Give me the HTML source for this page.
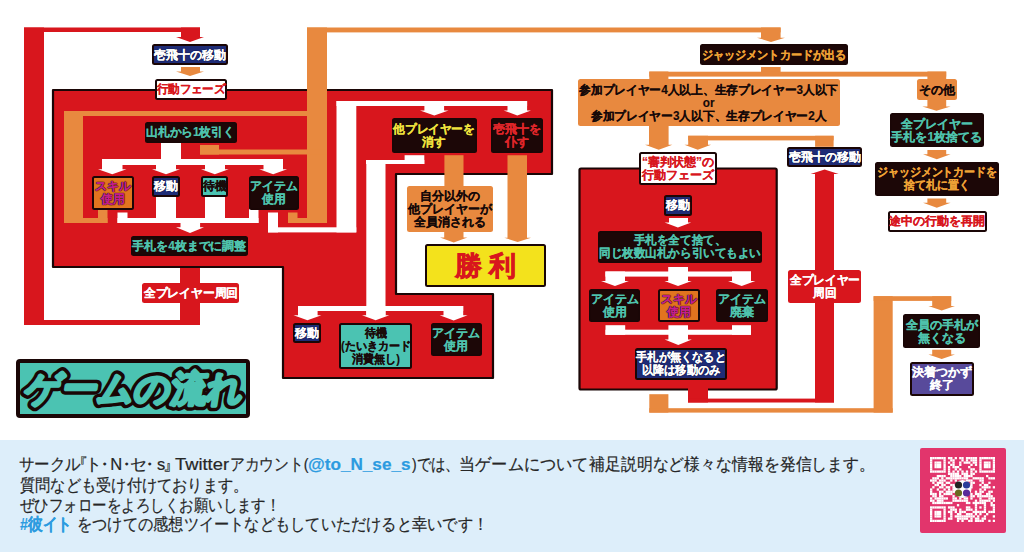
<!DOCTYPE html>
<html lang="ja">
<head>
<meta charset="utf-8">
<style>
html,body{margin:0;padding:0;}
body{width:1024px;height:552px;overflow:hidden;background:#fff;position:relative;font-family:"Liberation Sans",sans-serif;}
svg.d{position:absolute;left:0;top:0;}
.t{display:inline-block;}
.b{position:absolute;box-sizing:border-box;padding-top:1px;display:flex;align-items:center;justify-content:center;text-align:center;font-weight:bold;font-size:12px;line-height:13px;-webkit-text-stroke:0.15px currentColor;border:2px solid #1a0606;border-radius:2.5px;white-space:nowrap;}
.nv{background:#1f2c76;color:#fff;text-shadow:0 0 1px #0a0a30,0 0 1px #0a0a30;}
.dk{background:#1c0707;color:#4fc3ad;}
.wt{background:#fff;color:#d8161d;}
.tl{background:#4bc3b2;color:#1a0a0a;}
.sk{background:#e2741f;color:#c4208a;text-shadow:0 0 1px #000,0 0 1px #000,0 0 1px #000;}
.or{background:#e8893f;color:#140808;border:none;}
.rd{background:#d8161d;color:#fff;border:none;}
.pp{background:#584a9b;color:#fff;}
.yl{color:#f0e33e;}
.rt{color:#e1262a;}
.ot{color:#f0a336;}
.win{background:#f3e21c;color:#d8161d;font-size:27px;line-height:30px;letter-spacing:7px;-webkit-text-stroke:0.7px #d8161d;padding-left:7px;}
#foot{position:absolute;left:0;top:440px;width:1024px;height:112px;background:#ddeefa;}
.fs{position:absolute;transform-origin:0 0;font-size:16.5px;color:#262626;-webkit-text-stroke:0.2px #262626;white-space:nowrap;line-height:20px;}
.bl{color:#2c9be0;font-weight:bold;-webkit-text-stroke:0.2px #2c9be0;}
</style>
</head>
<body>
<svg class="d" width="1024" height="552" viewBox="0 0 1024 552">
<rect x="24" y="27.5" width="176" height="4.5" fill="#d8161d"/>
<rect x="24" y="27.5" width="20" height="297.5" fill="#d8161d"/>
<rect x="24" y="320" width="176" height="5" fill="#d8161d"/>
<rect x="180" y="262" width="20" height="63" fill="#d8161d"/>
<polygon points="181,27.5 200,27.5 200,37 204,37 190.0,42 176,37 181,37" fill="#d8161d" />
<polygon points="53,90 552,90 552,174 396,174 396,294 493,294 493,378 283,378 283,267 53,267" fill="#d8161d" stroke="#1a0606" stroke-width="2.2" stroke-linejoin="round"/>
<polygon points="181,67 200,67 200,71.5 204,71.5 190.0,76 176,71.5 181,71.5" fill="#e8893f" />
<rect x="307" y="27.5" width="473.6" height="4.9" fill="#e8893f"/>
<rect x="307" y="27.5" width="20" height="195.5" fill="#e8893f"/>
<polygon points="761,27.5 780.6,27.5 780.6,37.7 785,37.7 771.0,42 757,37.7 761,37.7" fill="#e8893f" />
<rect x="64" y="111" width="263" height="5" fill="#e8893f"/>
<rect x="64" y="111" width="19" height="112" fill="#e8893f"/>
<rect x="64" y="218" width="43.5" height="5" fill="#e8893f"/>
<rect x="98" y="209" width="9.5" height="14" fill="#e8893f"/>
<rect x="200" y="149.5" width="127" height="5.0" fill="#e8893f"/>
<rect x="200" y="145" width="19" height="9.5" fill="#e8893f"/>
<rect x="288" y="218" width="39" height="5" fill="#e8893f"/>
<rect x="288" y="212.5" width="9.5" height="10.5" fill="#e8893f"/>
<rect x="444.4" y="155.2" width="19.1" height="31.3" fill="#e8893f"/>
<polygon points="507.5,155.2 527,155.2 527,237.7 531,237.7 517.65,242.1 504.3,237.7 507.5,237.7" fill="#e8893f" />
<polygon points="444.2,232 463.5,232 463.5,237.4 467.4,237.4 453.7,242.5 440,237.4 444.2,237.4" fill="#e8893f" />
<rect x="161" y="142" width="20" height="23" fill="#ffffff"/>
<rect x="102" y="159" width="181" height="6" fill="#ffffff"/>
<polygon points="102,159 122.5,159 122.5,169.3 126.5,169.3 112.25,174.3 98,169.3 102,169.3" fill="#ffffff" />
<polygon points="156,159 176,159 176,169.3 180,169.3 166.0,174.3 152,169.3 156,169.3" fill="#ffffff" />
<polygon points="205,159 225,159 225,169.3 228.7,169.3 214.85,174.3 201,169.3 205,169.3" fill="#ffffff" />
<polygon points="263.5,159 283,159 283,169.3 287.1,169.3 273.15,174.3 259.2,169.3 263.5,169.3" fill="#ffffff" />
<rect x="117.5" y="218" width="141.0" height="5" fill="#ffffff"/>
<rect x="117.5" y="212.5" width="10.0" height="10.5" fill="#ffffff"/>
<rect x="156" y="196" width="20" height="27" fill="#ffffff"/>
<rect x="205" y="196" width="20" height="27" fill="#ffffff"/>
<rect x="249" y="209" width="9.5" height="14" fill="#ffffff"/>
<polygon points="180.5,222 200.1,222 200.1,227.3 204,227.3 190.0,233 176,227.3 180.5,227.3" fill="#ffffff" />
<rect x="268" y="212.5" width="10" height="19.9" fill="#ffffff"/>
<rect x="268" y="227.3" width="88.3" height="5.1" fill="#ffffff"/>
<rect x="336.5" y="101" width="19.8" height="131.4" fill="#ffffff"/>
<rect x="336.5" y="101" width="190.6" height="5" fill="#ffffff"/>
<polygon points="424.4,101 444.1,101 444.1,110.4 448.6,110.4 434.3,115.5 420,110.4 424.4,110.4" fill="#ffffff" />
<polygon points="507.5,101 527.1,101 527.1,110.4 531,110.4 517.3,115.5 503.6,110.4 507.5,110.4" fill="#ffffff" />
<rect x="404.6" y="155.2" width="19.7" height="8.8" fill="#ffffff"/>
<rect x="366" y="160" width="58.3" height="4" fill="#ffffff"/>
<rect x="366.3" y="160" width="19.2" height="155.2" fill="#ffffff"/>
<rect x="298" y="306" width="165.2" height="5" fill="#ffffff"/>
<polygon points="298,306 317.6,306 317.6,315.2 321.4,315.2 307.45,320.3 293.5,315.2 298,315.2" fill="#ffffff" />
<polygon points="366.3,306 385.5,306 385.5,315.2 389.3,315.2 375.65,320.3 362,315.2 366.3,315.2" fill="#ffffff" />
<polygon points="443.5,306 463.2,306 463.2,315.2 467.6,315.2 453.65,320.6 439.7,315.2 443.5,315.2" fill="#ffffff" />
<rect x="761" y="67" width="19.6" height="5" fill="#e8893f"/>
<rect x="649.3" y="71.7" width="296.9" height="4.9" fill="#e8893f"/>
<rect x="649.3" y="71.5" width="19.1" height="8.0" fill="#e8893f"/>
<rect x="927.4" y="71.5" width="18.8" height="8.0" fill="#e8893f"/>
<polygon points="927.4,99.5 946.2,99.5 946.2,106.4 950.6,106.4 936.45,110.7 922.3,106.4 927.4,106.4" fill="#e8893f" />
<polygon points="927.4,149.9 946.2,149.9 946.2,154.2 950.6,154.2 936.8,159.3 923,154.2 927.4,154.2" fill="#e8893f" />
<polygon points="927.4,198.4 946.2,198.4 946.2,202.8 950.6,202.8 936.8,207.8 923,202.8 927.4,202.8" fill="#e8893f" />
<polygon points="649,125 668.6,125 668.6,144.8 672.4,144.8 658.7,149.8 645,144.8 649,144.8" fill="#e8893f" />
<rect x="688.2" y="135.8" width="145.4" height="4.6" fill="#e8893f"/>
<rect x="815.1" y="135.8" width="18.5" height="11.0" fill="#e8893f"/>
<polygon points="688.2,135.8 708,135.8 708,144.8 711.1,144.8 697.75,149.8 684.4,144.8 688.2,144.8" fill="#e8893f" />
<rect x="649.3" y="394.2" width="19.1" height="18.4" fill="#e8893f"/>
<rect x="649.3" y="408.2" width="243.4" height="4.4" fill="#e8893f"/>
<rect x="873.6" y="296.2" width="19.1" height="116.4" fill="#e8893f"/>
<rect x="873.6" y="296.2" width="77.6" height="4.7" fill="#e8893f"/>
<polygon points="932.2,296.2 951.2,296.2 951.2,306 955,306 941.7,310.4 928.4,306 932.2,306" fill="#e8893f" />
<polygon points="932.2,349.8 951.2,349.8 951.2,354.5 955,354.5 941.7,359 928.4,354.5 932.2,354.5" fill="#e8893f" />
<rect x="579.5" y="168.5" width="197.2" height="221" fill="#d8161d" stroke="#1a0606" stroke-width="2.2" rx="1.5"/>
<rect x="688" y="388" width="20" height="14.5" fill="#d8161d"/>
<rect x="688" y="398.6" width="146" height="3.9" fill="#d8161d"/>
<polygon points="815,402.5 834,402.5 834,174 838.6,174 824.6,169.5 810.6,174 815,174" fill="#d8161d" />
<polygon points="669,218 688,218 688,222.5 691.2,222.5 677.9000000000001,227.6 664.6,222.5 669,222.5" fill="#ffffff" />
<rect x="605.4" y="271.5" width="145.6" height="5.1" fill="#ffffff"/>
<polygon points="605.4,271.5 625,271.5 625,281 628.9,281 614.95,286.1 601,281 605.4,281" fill="#ffffff" />
<polygon points="668.2,267 688,267 688,281 691.7,281 678.05,286.1 664.4,281 668.2,281" fill="#ffffff" />
<polygon points="732,271.5 751,271.5 751,281 755.4,281 741.7,286.1 728,281 732,281" fill="#ffffff" />
<rect x="605.5" y="325.2" width="19.7" height="9.6" fill="#ffffff"/>
<rect x="605.5" y="329.7" width="145.5" height="5.1" fill="#ffffff"/>
<rect x="732" y="325.2" width="19" height="9.6" fill="#ffffff"/>
<polygon points="668.4,325.2 688,325.2 688,339.5 691.9,339.5 678.25,344.9 664.6,339.5 668.4,339.5" fill="#ffffff" />
</svg>
<div class="b nv" style="left:152px;top:44px;width:76px;height:21px;"><span class="t" id="t0" style="transform:scaleX(1.0000)">壱飛十の移動</span></div><div class="b wt" style="left:154.5px;top:79px;width:72.0px;height:20.5px;"><span class="t" id="t1" style="transform:scaleX(0.9583)">行動フェーズ</span></div><div class="b dk" style="left:145px;top:122px;width:91.5px;height:20.5px;"><span class="t" id="t2" style="transform:scaleX(0.9725)">山札から1枚引く</span></div><div class="b sk" style="left:91.5px;top:176px;width:42.0px;height:33.5px;"><span class="t" id="t3" style="transform:scaleX(1.0000)">スキル<br>使用</span></div><div class="b nv" style="left:152px;top:176px;width:28px;height:20.5px;"><span class="t" id="t4" style="transform:scaleX(1.0000)">移動</span></div><div class="b tl" style="left:201px;top:176px;width:27px;height:20.5px;"><span class="t" id="t5" style="transform:scaleX(1.0000)">待機</span></div><div class="b dk" style="left:248.5px;top:176px;width:50.5px;height:33.5px;"><span class="t" id="t6" style="transform:scaleX(0.9896)">アイテム<br>使用</span></div><div class="b dk" style="left:131px;top:235.5px;width:117px;height:20.5px;"><span class="t" id="t7" style="transform:scaleX(0.9913)">手札を4枚までに調整</span></div><div class="b rd" style="left:142px;top:283px;width:97px;height:20px;"><span class="t" id="t8" style="transform:scaleX(0.9792)">全プレイヤー周回</span></div><div class="b dk yl" style="left:392px;top:118px;width:84.5px;height:34.5px;"><span class="t" id="t9" style="transform:scaleX(0.9702)">他プレイヤーを<br>消す</span></div><div class="b dk rt" style="left:491px;top:118px;width:52px;height:34.5px;"><span class="t" id="t10" style="transform:scaleX(1.0000)">壱飛十を<br>仆す</span></div><div class="b or" style="left:406.5px;top:185.5px;width:86.5px;height:46.8px;"><span class="t" id="t11" style="transform:scaleX(0.9940)">自分以外の<br>他プレイヤーが<br>全員消される</span></div><div class="b win" style="left:425px;top:244px;width:121px;height:42.5px;"><span class="t" id="t12" style="transform:scaleX(1.0000)">勝利</span></div><div class="b nv" style="left:293px;top:322.5px;width:28px;height:20.0px;"><span class="t" id="t13" style="transform:scaleX(1.0000)">移動</span></div><div class="b tl" style="left:339px;top:322.5px;width:73px;height:46.5px;"><span class="t" id="t14" style="transform:scaleX(0.9211)">待機<br>(たいきカード<br>消費無し)</span></div><div class="b dk" style="left:430.5px;top:322.5px;width:51.0px;height:33.5px;"><span class="t" id="t15" style="transform:scaleX(1.0000)">アイテム<br>使用</span></div><div class="b dk ot" style="left:700px;top:44px;width:147.5px;height:21px;"><span class="t" id="t16" style="transform:scaleX(0.9263)">ジャッジメントカードが出る</span></div><div class="b or" style="left:578px;top:79px;width:261.5px;height:47px;"><span class="t" id="t17" style="transform:scaleX(0.9755)">参加プレイヤー4人以上、生存プレイヤー3人以下<br>or<br>参加プレイヤー3人以下、生存プレイヤー2人</span></div><div class="b or" style="left:917px;top:79px;width:39.5px;height:21px;"><span class="t" id="t18" style="transform:scaleX(1.0000)">その他</span></div><div class="b dk" style="left:889.5px;top:113px;width:94.5px;height:34px;"><span class="t" id="t19" style="transform:scaleX(1.0000)">全プレイヤー<br>手札を1枚捨てる</span></div><div class="b dk ot" style="left:875px;top:162px;width:123.5px;height:33.5px;"><span class="t" id="t20" style="transform:scaleX(0.9129)">ジャッジメントカードを<br>捨て札に置く</span></div><div class="b wt" style="left:887.5px;top:210.5px;width:99.5px;height:21.5px;"><span class="t" id="t21" style="transform:scaleX(1.0000)">途中の行動を再開</span></div><div class="b wt" style="left:639px;top:151.5px;width:78px;height:33.0px;"><span class="t" id="t22" style="transform:scaleX(1.0000)">“審判状態”の<br>行動フェーズ</span></div><div class="b nv" style="left:787px;top:146.5px;width:75px;height:20.0px;"><span class="t" id="t23" style="transform:scaleX(1.0000)">壱飛十の移動</span></div><div class="b nv" style="left:664px;top:195px;width:28px;height:20.5px;"><span class="t" id="t24" style="transform:scaleX(1.0000)">移動</span></div><div class="b dk" style="left:597.5px;top:230.5px;width:164.5px;height:32.5px;"><span class="t" id="t25" style="transform:scaleX(0.9613)">手札を全て捨て、<br>同じ枚数山札から引いてもよい</span></div><div class="b dk" style="left:589px;top:288.5px;width:51px;height:33.5px;"><span class="t" id="t26" style="transform:scaleX(1.0000)">アイテム<br>使用</span></div><div class="b sk" style="left:657.5px;top:288.5px;width:42.0px;height:33.5px;"><span class="t" id="t27" style="transform:scaleX(1.0000)">スキル<br>使用</span></div><div class="b dk" style="left:716px;top:288.5px;width:51.5px;height:33.5px;"><span class="t" id="t28" style="transform:scaleX(1.0000)">アイテム<br>廃棄</span></div><div class="b rd" style="left:788px;top:269.5px;width:73px;height:33.5px;"><span class="t" id="t29" style="transform:scaleX(0.9722)">全プレイヤー<br>周回</span></div><div class="b nv" style="left:634.5px;top:347.5px;width:92.5px;height:32.5px;"><span class="t" id="t30" style="transform:scaleX(0.9323)">手札が無くなると<br>以降は移動のみ</span></div><div class="b dk" style="left:903px;top:314px;width:77px;height:34px;"><span class="t" id="t31" style="transform:scaleX(1.0000)">全員の手札が<br>無くなる</span></div><div class="b pp" style="left:909.5px;top:361.5px;width:64.5px;height:34.5px;"><span class="t" id="t32" style="transform:scaleX(1.0000)">決着つかず<br>終了</span></div>
<div style="position:absolute;left:16px;top:359px;width:234px;height:58.5px;box-sizing:border-box;background:#4bc3b2;border:4px solid #1a0606;border-radius:4px;"></div>
<svg style="position:absolute;left:0;top:0" width="260" height="430"><g transform="translate(24,401) skewX(-9)" style="font-family:'Liberation Sans',sans-serif" font-size="36" font-weight="bold">
<text x="0" y="0" fill="#1a0606" stroke="#1a0606" stroke-width="10" stroke-linejoin="round" textLength="218" lengthAdjust="spacingAndGlyphs">ゲームの流れ</text>
<text x="0" y="0" fill="#4bc3b2" stroke="#4bc3b2" stroke-width="3" stroke-linejoin="round" textLength="218" lengthAdjust="spacingAndGlyphs">ゲームの流れ</text>
</g></svg>
<div id="foot">
<span class="fs " style="left:19.2px;top:14px;transform:scaleX(0.9088)">サークル</span><span class="fs" style="left:71.4px;top:14px">『</span><span class="fs" style="left:84.6px;top:14px">ト</span><span class="fs" style="left:96px;top:14px">・</span><span class="fs" style="left:110.3px;top:14px">N</span><span class="fs" style="left:117.5px;top:14px">・</span><span class="fs" style="left:130.3px;top:14px">セ</span><span class="fs" style="left:140.5px;top:14px">・</span><span class="fs" style="left:157px;top:14px">s</span><span class="fs" style="left:163.3px;top:14px">』</span><span class="fs " style="left:174.5px;top:14px;transform:scaleX(1.1113)">Twitter</span><span class="fs " style="left:229.5px;top:14px;transform:scaleX(0.8674)">アカウント(</span><span class="fs bl" style="left:308.4px;top:14px;transform:scaleX(1.0391)">@to_N_se_s</span><span class="fs " style="left:411.5px;top:14px;transform:scaleX(0.8460)">)では、</span><span class="fs " style="left:459.3px;top:14px;transform:scaleX(0.9522)">当ゲームについて</span><span class="fs " style="left:588.8px;top:14px;transform:scaleX(0.9346)">補足説明など様々な情報を発信します。</span><span class="fs " style="left:19.6px;top:34.5px;transform:scaleX(0.8957)">質問なども受け付けております。</span><span class="fs " style="left:19.6px;top:54.5px;transform:scaleX(0.8510)">ぜひフォローをよろしくお願いします！</span><span class="fs bl" style="left:19.6px;top:73.5px;transform:scaleX(0.8623)">#彼イト</span><span class="fs " style="left:77px;top:73.5px;transform:scaleX(0.8954)">をつけての感想ツイートなどもしていただけると幸いです！</span>
<div style="position:absolute;left:920px;top:7.5px;width:85.5px;height:85.5px;background:#e2356c;border-radius:2px;"></div><svg style="position:absolute;left:930.2px;top:17.2px" width="65" height="65" viewBox="0 0 65 65"><g fill="#fff"><rect x="0.00" y="0.00" width="2.29" height="2.29"/><rect x="2.24" y="0.00" width="2.29" height="2.29"/><rect x="4.48" y="0.00" width="2.29" height="2.29"/><rect x="6.72" y="0.00" width="2.29" height="2.29"/><rect x="8.97" y="0.00" width="2.29" height="2.29"/><rect x="11.21" y="0.00" width="2.29" height="2.29"/><rect x="13.45" y="0.00" width="2.29" height="2.29"/><rect x="17.93" y="0.00" width="2.29" height="2.29"/><rect x="20.17" y="0.00" width="2.29" height="2.29"/><rect x="24.66" y="0.00" width="2.29" height="2.29"/><rect x="29.14" y="0.00" width="2.29" height="2.29"/><rect x="31.38" y="0.00" width="2.29" height="2.29"/><rect x="35.86" y="0.00" width="2.29" height="2.29"/><rect x="38.10" y="0.00" width="2.29" height="2.29"/><rect x="40.34" y="0.00" width="2.29" height="2.29"/><rect x="42.59" y="0.00" width="2.29" height="2.29"/><rect x="44.83" y="0.00" width="2.29" height="2.29"/><rect x="49.31" y="0.00" width="2.29" height="2.29"/><rect x="51.55" y="0.00" width="2.29" height="2.29"/><rect x="53.79" y="0.00" width="2.29" height="2.29"/><rect x="56.03" y="0.00" width="2.29" height="2.29"/><rect x="58.28" y="0.00" width="2.29" height="2.29"/><rect x="60.52" y="0.00" width="2.29" height="2.29"/><rect x="62.76" y="0.00" width="2.29" height="2.29"/><rect x="0.00" y="2.24" width="2.29" height="2.29"/><rect x="13.45" y="2.24" width="2.29" height="2.29"/><rect x="20.17" y="2.24" width="2.29" height="2.29"/><rect x="22.41" y="2.24" width="2.29" height="2.29"/><rect x="31.38" y="2.24" width="2.29" height="2.29"/><rect x="35.86" y="2.24" width="2.29" height="2.29"/><rect x="40.34" y="2.24" width="2.29" height="2.29"/><rect x="42.59" y="2.24" width="2.29" height="2.29"/><rect x="44.83" y="2.24" width="2.29" height="2.29"/><rect x="49.31" y="2.24" width="2.29" height="2.29"/><rect x="62.76" y="2.24" width="2.29" height="2.29"/><rect x="0.00" y="4.48" width="2.29" height="2.29"/><rect x="4.48" y="4.48" width="2.29" height="2.29"/><rect x="6.72" y="4.48" width="2.29" height="2.29"/><rect x="8.97" y="4.48" width="2.29" height="2.29"/><rect x="13.45" y="4.48" width="2.29" height="2.29"/><rect x="17.93" y="4.48" width="2.29" height="2.29"/><rect x="22.41" y="4.48" width="2.29" height="2.29"/><rect x="29.14" y="4.48" width="2.29" height="2.29"/><rect x="33.62" y="4.48" width="2.29" height="2.29"/><rect x="35.86" y="4.48" width="2.29" height="2.29"/><rect x="38.10" y="4.48" width="2.29" height="2.29"/><rect x="42.59" y="4.48" width="2.29" height="2.29"/><rect x="44.83" y="4.48" width="2.29" height="2.29"/><rect x="49.31" y="4.48" width="2.29" height="2.29"/><rect x="53.79" y="4.48" width="2.29" height="2.29"/><rect x="56.03" y="4.48" width="2.29" height="2.29"/><rect x="58.28" y="4.48" width="2.29" height="2.29"/><rect x="62.76" y="4.48" width="2.29" height="2.29"/><rect x="0.00" y="6.72" width="2.29" height="2.29"/><rect x="4.48" y="6.72" width="2.29" height="2.29"/><rect x="6.72" y="6.72" width="2.29" height="2.29"/><rect x="8.97" y="6.72" width="2.29" height="2.29"/><rect x="13.45" y="6.72" width="2.29" height="2.29"/><rect x="20.17" y="6.72" width="2.29" height="2.29"/><rect x="22.41" y="6.72" width="2.29" height="2.29"/><rect x="29.14" y="6.72" width="2.29" height="2.29"/><rect x="40.34" y="6.72" width="2.29" height="2.29"/><rect x="44.83" y="6.72" width="2.29" height="2.29"/><rect x="49.31" y="6.72" width="2.29" height="2.29"/><rect x="53.79" y="6.72" width="2.29" height="2.29"/><rect x="56.03" y="6.72" width="2.29" height="2.29"/><rect x="58.28" y="6.72" width="2.29" height="2.29"/><rect x="62.76" y="6.72" width="2.29" height="2.29"/><rect x="0.00" y="8.97" width="2.29" height="2.29"/><rect x="4.48" y="8.97" width="2.29" height="2.29"/><rect x="6.72" y="8.97" width="2.29" height="2.29"/><rect x="8.97" y="8.97" width="2.29" height="2.29"/><rect x="13.45" y="8.97" width="2.29" height="2.29"/><rect x="17.93" y="8.97" width="2.29" height="2.29"/><rect x="22.41" y="8.97" width="2.29" height="2.29"/><rect x="24.66" y="8.97" width="2.29" height="2.29"/><rect x="26.90" y="8.97" width="2.29" height="2.29"/><rect x="38.10" y="8.97" width="2.29" height="2.29"/><rect x="49.31" y="8.97" width="2.29" height="2.29"/><rect x="53.79" y="8.97" width="2.29" height="2.29"/><rect x="56.03" y="8.97" width="2.29" height="2.29"/><rect x="58.28" y="8.97" width="2.29" height="2.29"/><rect x="62.76" y="8.97" width="2.29" height="2.29"/><rect x="0.00" y="11.21" width="2.29" height="2.29"/><rect x="13.45" y="11.21" width="2.29" height="2.29"/><rect x="17.93" y="11.21" width="2.29" height="2.29"/><rect x="24.66" y="11.21" width="2.29" height="2.29"/><rect x="29.14" y="11.21" width="2.29" height="2.29"/><rect x="40.34" y="11.21" width="2.29" height="2.29"/><rect x="42.59" y="11.21" width="2.29" height="2.29"/><rect x="49.31" y="11.21" width="2.29" height="2.29"/><rect x="62.76" y="11.21" width="2.29" height="2.29"/><rect x="0.00" y="13.45" width="2.29" height="2.29"/><rect x="2.24" y="13.45" width="2.29" height="2.29"/><rect x="4.48" y="13.45" width="2.29" height="2.29"/><rect x="6.72" y="13.45" width="2.29" height="2.29"/><rect x="8.97" y="13.45" width="2.29" height="2.29"/><rect x="11.21" y="13.45" width="2.29" height="2.29"/><rect x="13.45" y="13.45" width="2.29" height="2.29"/><rect x="17.93" y="13.45" width="2.29" height="2.29"/><rect x="22.41" y="13.45" width="2.29" height="2.29"/><rect x="26.90" y="13.45" width="2.29" height="2.29"/><rect x="31.38" y="13.45" width="2.29" height="2.29"/><rect x="35.86" y="13.45" width="2.29" height="2.29"/><rect x="40.34" y="13.45" width="2.29" height="2.29"/><rect x="44.83" y="13.45" width="2.29" height="2.29"/><rect x="49.31" y="13.45" width="2.29" height="2.29"/><rect x="51.55" y="13.45" width="2.29" height="2.29"/><rect x="53.79" y="13.45" width="2.29" height="2.29"/><rect x="56.03" y="13.45" width="2.29" height="2.29"/><rect x="58.28" y="13.45" width="2.29" height="2.29"/><rect x="60.52" y="13.45" width="2.29" height="2.29"/><rect x="62.76" y="13.45" width="2.29" height="2.29"/><rect x="17.93" y="15.69" width="2.29" height="2.29"/><rect x="20.17" y="15.69" width="2.29" height="2.29"/><rect x="22.41" y="15.69" width="2.29" height="2.29"/><rect x="24.66" y="15.69" width="2.29" height="2.29"/><rect x="26.90" y="15.69" width="2.29" height="2.29"/><rect x="31.38" y="15.69" width="2.29" height="2.29"/><rect x="33.62" y="15.69" width="2.29" height="2.29"/><rect x="35.86" y="15.69" width="2.29" height="2.29"/><rect x="40.34" y="15.69" width="2.29" height="2.29"/><rect x="42.59" y="15.69" width="2.29" height="2.29"/><rect x="6.72" y="17.93" width="2.29" height="2.29"/><rect x="8.97" y="17.93" width="2.29" height="2.29"/><rect x="11.21" y="17.93" width="2.29" height="2.29"/><rect x="13.45" y="17.93" width="2.29" height="2.29"/><rect x="20.17" y="17.93" width="2.29" height="2.29"/><rect x="22.41" y="17.93" width="2.29" height="2.29"/><rect x="24.66" y="17.93" width="2.29" height="2.29"/><rect x="26.90" y="17.93" width="2.29" height="2.29"/><rect x="29.14" y="17.93" width="2.29" height="2.29"/><rect x="33.62" y="17.93" width="2.29" height="2.29"/><rect x="35.86" y="17.93" width="2.29" height="2.29"/><rect x="38.10" y="17.93" width="2.29" height="2.29"/><rect x="40.34" y="17.93" width="2.29" height="2.29"/><rect x="56.03" y="17.93" width="2.29" height="2.29"/><rect x="2.24" y="20.17" width="2.29" height="2.29"/><rect x="4.48" y="20.17" width="2.29" height="2.29"/><rect x="6.72" y="20.17" width="2.29" height="2.29"/><rect x="11.21" y="20.17" width="2.29" height="2.29"/><rect x="15.69" y="20.17" width="2.29" height="2.29"/><rect x="17.93" y="20.17" width="2.29" height="2.29"/><rect x="20.17" y="20.17" width="2.29" height="2.29"/><rect x="22.41" y="20.17" width="2.29" height="2.29"/><rect x="24.66" y="20.17" width="2.29" height="2.29"/><rect x="26.90" y="20.17" width="2.29" height="2.29"/><rect x="29.14" y="20.17" width="2.29" height="2.29"/><rect x="31.38" y="20.17" width="2.29" height="2.29"/><rect x="33.62" y="20.17" width="2.29" height="2.29"/><rect x="35.86" y="20.17" width="2.29" height="2.29"/><rect x="42.59" y="20.17" width="2.29" height="2.29"/><rect x="44.83" y="20.17" width="2.29" height="2.29"/><rect x="47.07" y="20.17" width="2.29" height="2.29"/><rect x="49.31" y="20.17" width="2.29" height="2.29"/><rect x="51.55" y="20.17" width="2.29" height="2.29"/><rect x="58.28" y="20.17" width="2.29" height="2.29"/><rect x="60.52" y="20.17" width="2.29" height="2.29"/><rect x="62.76" y="20.17" width="2.29" height="2.29"/><rect x="0.00" y="22.41" width="2.29" height="2.29"/><rect x="2.24" y="22.41" width="2.29" height="2.29"/><rect x="4.48" y="22.41" width="2.29" height="2.29"/><rect x="8.97" y="22.41" width="2.29" height="2.29"/><rect x="11.21" y="22.41" width="2.29" height="2.29"/><rect x="13.45" y="22.41" width="2.29" height="2.29"/><rect x="20.17" y="22.41" width="2.29" height="2.29"/><rect x="24.66" y="22.41" width="2.29" height="2.29"/><rect x="35.86" y="22.41" width="2.29" height="2.29"/><rect x="38.10" y="22.41" width="2.29" height="2.29"/><rect x="40.34" y="22.41" width="2.29" height="2.29"/><rect x="49.31" y="22.41" width="2.29" height="2.29"/><rect x="51.55" y="22.41" width="2.29" height="2.29"/><rect x="2.24" y="24.66" width="2.29" height="2.29"/><rect x="6.72" y="24.66" width="2.29" height="2.29"/><rect x="8.97" y="24.66" width="2.29" height="2.29"/><rect x="11.21" y="24.66" width="2.29" height="2.29"/><rect x="15.69" y="24.66" width="2.29" height="2.29"/><rect x="17.93" y="24.66" width="2.29" height="2.29"/><rect x="40.34" y="24.66" width="2.29" height="2.29"/><rect x="42.59" y="24.66" width="2.29" height="2.29"/><rect x="51.55" y="24.66" width="2.29" height="2.29"/><rect x="58.28" y="24.66" width="2.29" height="2.29"/><rect x="4.48" y="26.90" width="2.29" height="2.29"/><rect x="6.72" y="26.90" width="2.29" height="2.29"/><rect x="11.21" y="26.90" width="2.29" height="2.29"/><rect x="13.45" y="26.90" width="2.29" height="2.29"/><rect x="20.17" y="26.90" width="2.29" height="2.29"/><rect x="22.41" y="26.90" width="2.29" height="2.29"/><rect x="40.34" y="26.90" width="2.29" height="2.29"/><rect x="49.31" y="26.90" width="2.29" height="2.29"/><rect x="53.79" y="26.90" width="2.29" height="2.29"/><rect x="56.03" y="26.90" width="2.29" height="2.29"/><rect x="2.24" y="29.14" width="2.29" height="2.29"/><rect x="8.97" y="29.14" width="2.29" height="2.29"/><rect x="11.21" y="29.14" width="2.29" height="2.29"/><rect x="15.69" y="29.14" width="2.29" height="2.29"/><rect x="17.93" y="29.14" width="2.29" height="2.29"/><rect x="22.41" y="29.14" width="2.29" height="2.29"/><rect x="40.34" y="29.14" width="2.29" height="2.29"/><rect x="51.55" y="29.14" width="2.29" height="2.29"/><rect x="53.79" y="29.14" width="2.29" height="2.29"/><rect x="56.03" y="29.14" width="2.29" height="2.29"/><rect x="58.28" y="29.14" width="2.29" height="2.29"/><rect x="62.76" y="29.14" width="2.29" height="2.29"/><rect x="0.00" y="31.38" width="2.29" height="2.29"/><rect x="6.72" y="31.38" width="2.29" height="2.29"/><rect x="13.45" y="31.38" width="2.29" height="2.29"/><rect x="17.93" y="31.38" width="2.29" height="2.29"/><rect x="22.41" y="31.38" width="2.29" height="2.29"/><rect x="49.31" y="31.38" width="2.29" height="2.29"/><rect x="53.79" y="31.38" width="2.29" height="2.29"/><rect x="0.00" y="33.62" width="2.29" height="2.29"/><rect x="8.97" y="33.62" width="2.29" height="2.29"/><rect x="11.21" y="33.62" width="2.29" height="2.29"/><rect x="15.69" y="33.62" width="2.29" height="2.29"/><rect x="17.93" y="33.62" width="2.29" height="2.29"/><rect x="20.17" y="33.62" width="2.29" height="2.29"/><rect x="22.41" y="33.62" width="2.29" height="2.29"/><rect x="44.83" y="33.62" width="2.29" height="2.29"/><rect x="49.31" y="33.62" width="2.29" height="2.29"/><rect x="51.55" y="33.62" width="2.29" height="2.29"/><rect x="58.28" y="33.62" width="2.29" height="2.29"/><rect x="60.52" y="33.62" width="2.29" height="2.29"/><rect x="0.00" y="35.86" width="2.29" height="2.29"/><rect x="2.24" y="35.86" width="2.29" height="2.29"/><rect x="4.48" y="35.86" width="2.29" height="2.29"/><rect x="8.97" y="35.86" width="2.29" height="2.29"/><rect x="13.45" y="35.86" width="2.29" height="2.29"/><rect x="15.69" y="35.86" width="2.29" height="2.29"/><rect x="17.93" y="35.86" width="2.29" height="2.29"/><rect x="20.17" y="35.86" width="2.29" height="2.29"/><rect x="40.34" y="35.86" width="2.29" height="2.29"/><rect x="44.83" y="35.86" width="2.29" height="2.29"/><rect x="47.07" y="35.86" width="2.29" height="2.29"/><rect x="49.31" y="35.86" width="2.29" height="2.29"/><rect x="56.03" y="35.86" width="2.29" height="2.29"/><rect x="58.28" y="35.86" width="2.29" height="2.29"/><rect x="2.24" y="38.10" width="2.29" height="2.29"/><rect x="4.48" y="38.10" width="2.29" height="2.29"/><rect x="8.97" y="38.10" width="2.29" height="2.29"/><rect x="11.21" y="38.10" width="2.29" height="2.29"/><rect x="22.41" y="38.10" width="2.29" height="2.29"/><rect x="40.34" y="38.10" width="2.29" height="2.29"/><rect x="42.59" y="38.10" width="2.29" height="2.29"/><rect x="47.07" y="38.10" width="2.29" height="2.29"/><rect x="49.31" y="38.10" width="2.29" height="2.29"/><rect x="51.55" y="38.10" width="2.29" height="2.29"/><rect x="53.79" y="38.10" width="2.29" height="2.29"/><rect x="56.03" y="38.10" width="2.29" height="2.29"/><rect x="58.28" y="38.10" width="2.29" height="2.29"/><rect x="60.52" y="38.10" width="2.29" height="2.29"/><rect x="0.00" y="40.34" width="2.29" height="2.29"/><rect x="4.48" y="40.34" width="2.29" height="2.29"/><rect x="6.72" y="40.34" width="2.29" height="2.29"/><rect x="8.97" y="40.34" width="2.29" height="2.29"/><rect x="11.21" y="40.34" width="2.29" height="2.29"/><rect x="13.45" y="40.34" width="2.29" height="2.29"/><rect x="15.69" y="40.34" width="2.29" height="2.29"/><rect x="22.41" y="40.34" width="2.29" height="2.29"/><rect x="24.66" y="40.34" width="2.29" height="2.29"/><rect x="29.14" y="40.34" width="2.29" height="2.29"/><rect x="33.62" y="40.34" width="2.29" height="2.29"/><rect x="35.86" y="40.34" width="2.29" height="2.29"/><rect x="40.34" y="40.34" width="2.29" height="2.29"/><rect x="49.31" y="40.34" width="2.29" height="2.29"/><rect x="58.28" y="40.34" width="2.29" height="2.29"/><rect x="60.52" y="40.34" width="2.29" height="2.29"/><rect x="62.76" y="40.34" width="2.29" height="2.29"/><rect x="0.00" y="42.59" width="2.29" height="2.29"/><rect x="2.24" y="42.59" width="2.29" height="2.29"/><rect x="6.72" y="42.59" width="2.29" height="2.29"/><rect x="8.97" y="42.59" width="2.29" height="2.29"/><rect x="11.21" y="42.59" width="2.29" height="2.29"/><rect x="22.41" y="42.59" width="2.29" height="2.29"/><rect x="24.66" y="42.59" width="2.29" height="2.29"/><rect x="26.90" y="42.59" width="2.29" height="2.29"/><rect x="29.14" y="42.59" width="2.29" height="2.29"/><rect x="31.38" y="42.59" width="2.29" height="2.29"/><rect x="33.62" y="42.59" width="2.29" height="2.29"/><rect x="35.86" y="42.59" width="2.29" height="2.29"/><rect x="44.83" y="42.59" width="2.29" height="2.29"/><rect x="49.31" y="42.59" width="2.29" height="2.29"/><rect x="51.55" y="42.59" width="2.29" height="2.29"/><rect x="53.79" y="42.59" width="2.29" height="2.29"/><rect x="56.03" y="42.59" width="2.29" height="2.29"/><rect x="58.28" y="42.59" width="2.29" height="2.29"/><rect x="62.76" y="42.59" width="2.29" height="2.29"/><rect x="2.24" y="44.83" width="2.29" height="2.29"/><rect x="4.48" y="44.83" width="2.29" height="2.29"/><rect x="6.72" y="44.83" width="2.29" height="2.29"/><rect x="8.97" y="44.83" width="2.29" height="2.29"/><rect x="11.21" y="44.83" width="2.29" height="2.29"/><rect x="13.45" y="44.83" width="2.29" height="2.29"/><rect x="15.69" y="44.83" width="2.29" height="2.29"/><rect x="17.93" y="44.83" width="2.29" height="2.29"/><rect x="20.17" y="44.83" width="2.29" height="2.29"/><rect x="35.86" y="44.83" width="2.29" height="2.29"/><rect x="38.10" y="44.83" width="2.29" height="2.29"/><rect x="42.59" y="44.83" width="2.29" height="2.29"/><rect x="44.83" y="44.83" width="2.29" height="2.29"/><rect x="47.07" y="44.83" width="2.29" height="2.29"/><rect x="49.31" y="44.83" width="2.29" height="2.29"/><rect x="51.55" y="44.83" width="2.29" height="2.29"/><rect x="53.79" y="44.83" width="2.29" height="2.29"/><rect x="60.52" y="44.83" width="2.29" height="2.29"/><rect x="26.90" y="47.07" width="2.29" height="2.29"/><rect x="44.83" y="47.07" width="2.29" height="2.29"/><rect x="53.79" y="47.07" width="2.29" height="2.29"/><rect x="60.52" y="47.07" width="2.29" height="2.29"/><rect x="62.76" y="47.07" width="2.29" height="2.29"/><rect x="0.00" y="49.31" width="2.29" height="2.29"/><rect x="2.24" y="49.31" width="2.29" height="2.29"/><rect x="4.48" y="49.31" width="2.29" height="2.29"/><rect x="6.72" y="49.31" width="2.29" height="2.29"/><rect x="8.97" y="49.31" width="2.29" height="2.29"/><rect x="11.21" y="49.31" width="2.29" height="2.29"/><rect x="13.45" y="49.31" width="2.29" height="2.29"/><rect x="17.93" y="49.31" width="2.29" height="2.29"/><rect x="20.17" y="49.31" width="2.29" height="2.29"/><rect x="22.41" y="49.31" width="2.29" height="2.29"/><rect x="35.86" y="49.31" width="2.29" height="2.29"/><rect x="38.10" y="49.31" width="2.29" height="2.29"/><rect x="44.83" y="49.31" width="2.29" height="2.29"/><rect x="49.31" y="49.31" width="2.29" height="2.29"/><rect x="53.79" y="49.31" width="2.29" height="2.29"/><rect x="62.76" y="49.31" width="2.29" height="2.29"/><rect x="0.00" y="51.55" width="2.29" height="2.29"/><rect x="13.45" y="51.55" width="2.29" height="2.29"/><rect x="20.17" y="51.55" width="2.29" height="2.29"/><rect x="22.41" y="51.55" width="2.29" height="2.29"/><rect x="24.66" y="51.55" width="2.29" height="2.29"/><rect x="29.14" y="51.55" width="2.29" height="2.29"/><rect x="35.86" y="51.55" width="2.29" height="2.29"/><rect x="38.10" y="51.55" width="2.29" height="2.29"/><rect x="40.34" y="51.55" width="2.29" height="2.29"/><rect x="44.83" y="51.55" width="2.29" height="2.29"/><rect x="53.79" y="51.55" width="2.29" height="2.29"/><rect x="62.76" y="51.55" width="2.29" height="2.29"/><rect x="0.00" y="53.79" width="2.29" height="2.29"/><rect x="4.48" y="53.79" width="2.29" height="2.29"/><rect x="6.72" y="53.79" width="2.29" height="2.29"/><rect x="8.97" y="53.79" width="2.29" height="2.29"/><rect x="13.45" y="53.79" width="2.29" height="2.29"/><rect x="17.93" y="53.79" width="2.29" height="2.29"/><rect x="20.17" y="53.79" width="2.29" height="2.29"/><rect x="24.66" y="53.79" width="2.29" height="2.29"/><rect x="29.14" y="53.79" width="2.29" height="2.29"/><rect x="31.38" y="53.79" width="2.29" height="2.29"/><rect x="33.62" y="53.79" width="2.29" height="2.29"/><rect x="42.59" y="53.79" width="2.29" height="2.29"/><rect x="44.83" y="53.79" width="2.29" height="2.29"/><rect x="47.07" y="53.79" width="2.29" height="2.29"/><rect x="49.31" y="53.79" width="2.29" height="2.29"/><rect x="51.55" y="53.79" width="2.29" height="2.29"/><rect x="53.79" y="53.79" width="2.29" height="2.29"/><rect x="58.28" y="53.79" width="2.29" height="2.29"/><rect x="60.52" y="53.79" width="2.29" height="2.29"/><rect x="62.76" y="53.79" width="2.29" height="2.29"/><rect x="0.00" y="56.03" width="2.29" height="2.29"/><rect x="4.48" y="56.03" width="2.29" height="2.29"/><rect x="6.72" y="56.03" width="2.29" height="2.29"/><rect x="8.97" y="56.03" width="2.29" height="2.29"/><rect x="13.45" y="56.03" width="2.29" height="2.29"/><rect x="20.17" y="56.03" width="2.29" height="2.29"/><rect x="26.90" y="56.03" width="2.29" height="2.29"/><rect x="29.14" y="56.03" width="2.29" height="2.29"/><rect x="35.86" y="56.03" width="2.29" height="2.29"/><rect x="38.10" y="56.03" width="2.29" height="2.29"/><rect x="40.34" y="56.03" width="2.29" height="2.29"/><rect x="44.83" y="56.03" width="2.29" height="2.29"/><rect x="49.31" y="56.03" width="2.29" height="2.29"/><rect x="56.03" y="56.03" width="2.29" height="2.29"/><rect x="0.00" y="58.28" width="2.29" height="2.29"/><rect x="4.48" y="58.28" width="2.29" height="2.29"/><rect x="6.72" y="58.28" width="2.29" height="2.29"/><rect x="8.97" y="58.28" width="2.29" height="2.29"/><rect x="13.45" y="58.28" width="2.29" height="2.29"/><rect x="20.17" y="58.28" width="2.29" height="2.29"/><rect x="24.66" y="58.28" width="2.29" height="2.29"/><rect x="26.90" y="58.28" width="2.29" height="2.29"/><rect x="29.14" y="58.28" width="2.29" height="2.29"/><rect x="31.38" y="58.28" width="2.29" height="2.29"/><rect x="33.62" y="58.28" width="2.29" height="2.29"/><rect x="35.86" y="58.28" width="2.29" height="2.29"/><rect x="38.10" y="58.28" width="2.29" height="2.29"/><rect x="40.34" y="58.28" width="2.29" height="2.29"/><rect x="42.59" y="58.28" width="2.29" height="2.29"/><rect x="47.07" y="58.28" width="2.29" height="2.29"/><rect x="53.79" y="58.28" width="2.29" height="2.29"/><rect x="62.76" y="58.28" width="2.29" height="2.29"/><rect x="0.00" y="60.52" width="2.29" height="2.29"/><rect x="13.45" y="60.52" width="2.29" height="2.29"/><rect x="17.93" y="60.52" width="2.29" height="2.29"/><rect x="20.17" y="60.52" width="2.29" height="2.29"/><rect x="26.90" y="60.52" width="2.29" height="2.29"/><rect x="29.14" y="60.52" width="2.29" height="2.29"/><rect x="31.38" y="60.52" width="2.29" height="2.29"/><rect x="33.62" y="60.52" width="2.29" height="2.29"/><rect x="35.86" y="60.52" width="2.29" height="2.29"/><rect x="40.34" y="60.52" width="2.29" height="2.29"/><rect x="44.83" y="60.52" width="2.29" height="2.29"/><rect x="47.07" y="60.52" width="2.29" height="2.29"/><rect x="51.55" y="60.52" width="2.29" height="2.29"/><rect x="53.79" y="60.52" width="2.29" height="2.29"/><rect x="0.00" y="62.76" width="2.29" height="2.29"/><rect x="2.24" y="62.76" width="2.29" height="2.29"/><rect x="4.48" y="62.76" width="2.29" height="2.29"/><rect x="6.72" y="62.76" width="2.29" height="2.29"/><rect x="8.97" y="62.76" width="2.29" height="2.29"/><rect x="11.21" y="62.76" width="2.29" height="2.29"/><rect x="13.45" y="62.76" width="2.29" height="2.29"/><rect x="26.90" y="62.76" width="2.29" height="2.29"/><rect x="31.38" y="62.76" width="2.29" height="2.29"/><rect x="38.10" y="62.76" width="2.29" height="2.29"/><rect x="40.34" y="62.76" width="2.29" height="2.29"/><rect x="44.83" y="62.76" width="2.29" height="2.29"/><rect x="47.07" y="62.76" width="2.29" height="2.29"/><rect x="49.31" y="62.76" width="2.29" height="2.29"/><rect x="51.55" y="62.76" width="2.29" height="2.29"/><rect x="58.28" y="62.76" width="2.29" height="2.29"/><rect x="62.76" y="62.76" width="2.29" height="2.29"/></g><circle cx="32.5" cy="32" r="9" fill="#fff"/><circle cx="28.5" cy="28" r="3.6" fill="#222"/><circle cx="36.5" cy="28" r="3.6" fill="#2a3c9a"/><circle cx="28.5" cy="36" r="3.6" fill="#6a6a20"/><circle cx="36.5" cy="36" r="3.6" fill="#5a2a9a"/></svg>
</div>
</body>
</html>
